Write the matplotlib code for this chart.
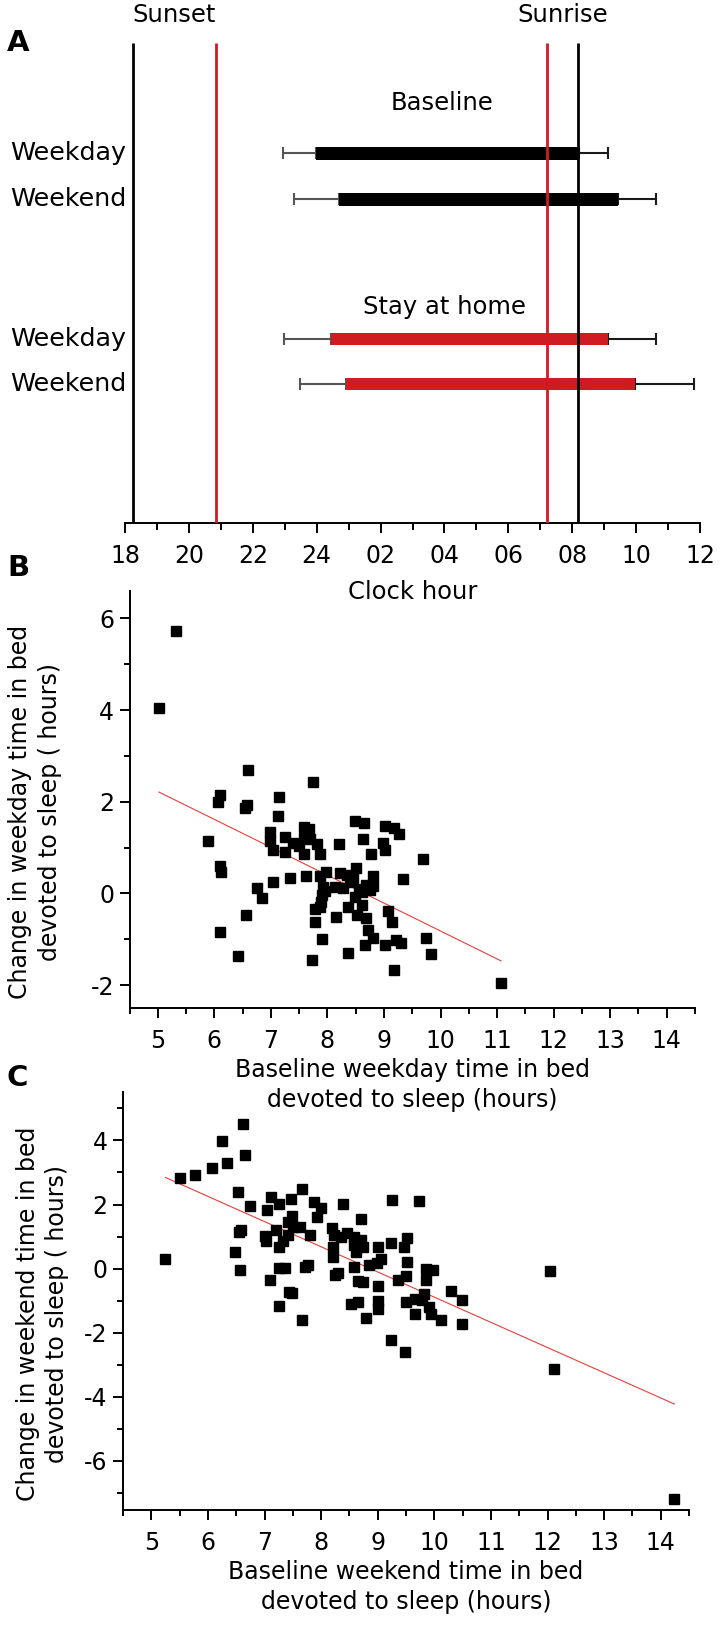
import matplotlib
matplotlib.use("Agg")
import matplotlib.pyplot as plt
import numpy as np
from matplotlib.ticker import MultipleLocator, FixedLocator

# ---------------- data ---------------- #
# panel A: clock hours on an 18..36 scale (24 = midnight)
sunset_hours = [18.24, 20.86]          # baseline (black), stay at home (red)
sunrise_hours = [32.19, 31.20]
row_names = ["Weekday", "Weekend", "Weekday", "Weekend"]
bed_onset = [23.98, 24.69, 24.46, 24.92]
bed_offset = [32.22, 33.43, 33.13, 33.97]
onset_sd = [1.02, 1.39, 1.48, 1.45]
offset_sd = [0.91, 1.18, 1.48, 1.83]
hour_ticks = [18, 20, 22, 24, 26, 28, 30, 32, 34, 36]
hour_labels = ["18", "20", "22", "24", "02", "04", "06", "08", "10", "12"]

# panel B: weekday
wkday_base = [5.02, 5.32, 6.60, 7.75, 6.10, 6.06, 6.58, 6.55, 7.15, 7.12,
              5.88, 6.98, 6.98, 7.25, 7.04, 7.25, 6.10, 6.12, 6.75, 6.85,
              7.03, 7.34, 6.56, 6.10, 6.41, 7.39, 7.49, 7.58, 7.67, 7.58,
              7.70, 7.58, 7.81, 7.87, 7.62, 7.87, 7.98, 8.22, 8.35, 8.50,
              8.46, 8.14, 8.27, 7.93, 7.90, 7.88, 7.87, 7.78, 7.78, 8.48,
              8.65, 9.02, 9.18, 9.27, 8.63, 8.21, 8.98, 9.01, 8.77, 9.69,
              8.80, 8.69, 8.81, 8.61, 8.76, 8.49, 8.61, 8.37, 8.52, 8.68,
              8.71, 8.81, 8.66, 9.01, 9.21, 9.30, 9.07, 9.15, 9.33, 8.15,
              7.91, 8.37, 7.72, 9.17, 9.74, 9.83, 11.07, 8.40, 8.55, 7.95]
wkday_change = [4.04, 5.73, 2.69, 2.44, 2.14, 2.00, 1.93, 1.86, 2.11, 1.70,
                1.15, 1.35, 1.15, 1.24, 0.95, 0.91, 0.60, 0.47, 0.12, -0.09,
                0.26, 0.33, -0.47, -0.84, -1.37, 1.10, 1.03, 1.45, 1.40, 1.21,
                1.19, 0.86, 1.07, 0.86, 0.38, 0.38, 0.47, 0.44, 0.40, 0.55,
                0.33, 0.15, 0.11, 0.15, -0.03, -0.18, -0.29, -0.35, -0.62, 1.59,
                1.54, 1.48, 1.42, 1.30, 1.18, 1.07, 1.09, 0.94, 0.87, 0.75,
                0.38, 0.18, 0.16, 0.04, 0.07, -0.07, -0.25, -0.29, -0.47, -0.54,
                -0.80, -0.98, -1.13, -1.13, -1.02, -1.08, -0.38, -0.62, 0.31, -0.51,
                -1.00, -1.31, -1.46, -1.66, -0.97, -1.33, -1.95, 0.25, 0.10, 0.05]
wkday_fit = [5.27, -0.609]   # intercept, slope

# panel C: weekend
wkend_base = [5.25, 5.50, 5.77, 6.08, 6.25, 6.33, 6.62, 6.66, 6.54, 6.75,
              6.55, 6.59, 6.48, 6.56, 7.66, 7.12, 7.25, 7.46, 7.05, 7.87,
              7.99, 8.38, 7.92, 8.71, 9.25, 9.73, 7.49, 7.41, 7.50, 7.62,
              7.20, 7.00, 7.03, 7.33, 7.41, 7.80, 7.25, 8.19, 8.23, 8.36,
              8.46, 8.59, 8.70, 8.74, 8.58, 8.62, 8.21, 8.21, 9.00, 9.24,
              9.06, 8.98, 8.84, 8.59, 8.30, 8.24, 7.77, 7.72, 7.25, 7.37,
              7.10, 8.74, 9.01, 7.43, 7.49, 7.25, 8.52, 8.66, 9.01, 9.01,
              8.79, 7.67, 9.36, 9.46, 9.52, 9.52, 9.50, 9.86, 9.98, 9.86,
              10.29, 9.82, 10.49, 9.50, 9.66, 9.78, 9.90, 9.66, 9.94, 10.11,
              10.49, 9.24, 9.49, 12.04, 12.12, 14.24, 8.66]
wkend_change = [0.30, 2.83, 2.92, 3.14, 3.99, 3.31, 4.52, 3.55, 2.38, 1.94,
                1.13, 1.19, 0.53, -0.05, 2.48, 2.23, 2.01, 2.17, 1.82, 2.07,
                1.89, 2.01, 1.60, 1.55, 2.14, 2.12, 1.63, 1.45, 1.31, 1.31,
                1.20, 1.03, 0.85, 0.85, 1.05, 1.05, 0.66, 1.26, 1.05, 0.99,
                1.10, 0.99, 0.89, 0.69, 0.74, 0.53, 0.67, 0.37, 0.69, 0.81,
                0.29, 0.16, 0.11, 0.04, -0.15, -0.20, 0.11, 0.04, 0.01, 0.01,
                -0.35, -0.43, -0.53, -0.72, -0.77, -1.17, -1.10, -1.05, -1.00, -1.26,
                -1.53, -1.60, -0.37, 0.69, 0.95, 0.22, -0.23, -0.02, -0.04, -0.35,
                -0.70, -0.79, -0.98, -1.05, -0.95, -0.98, -1.19, -1.42, -1.42, -1.60,
                -1.74, -2.23, -2.60, -0.06, -3.14, -7.18, -0.39]
wkend_fit = [6.97, -0.786]

# ---------------- style ---------------- #
RED = "#cf1b22"
FIT_RED = "#e4403a"
plt.rcParams["font.family"] = ["DejaVu Sans"]
plt.rcParams["axes.unicode_minus"] = False
W, H = 720, 1625


def add_ax(left, top, right, bottom):
    ax = fig.add_axes([left / W, 1 - bottom / H, (right - left) / W, (bottom - top) / H])
    ax.patch.set_visible(False)
    return ax


fig = plt.figure(figsize=(W / 100, H / 100), dpi=100)

# ---------------- panel A ---------------- #
axA = add_ax(125, 43, 700, 523)
axA.set_xlim(18, 36)
axA.set_ylim(0, 480)
row_y = [370, 324, 184, 139]
bar_colors = ["black", "black", RED, RED]

for y, on, off, sd1, sd2, c in zip(row_y, bed_onset, bed_offset, onset_sd, offset_sd, bar_colors):
    axA.errorbar([on], [y], xerr=[[sd1], [0]], fmt="none", ecolor="#555555",
                 elinewidth=1.5, capsize=4, capthick=1.5, zorder=2)
    axA.errorbar([off], [y], xerr=[[0], [sd2]], fmt="none", ecolor="#1a1a1a",
                 elinewidth=1.5, capsize=4, capthick=1.5, zorder=2)
    axA.barh(y, off - on, left=on, height=13 if c == "black" else 12, color=c, zorder=3)

axA.vlines([sunset_hours[0], sunrise_hours[0]], 0, 480, colors="black", lw=2, zorder=4)
axA.vlines([sunset_hours[1], sunrise_hours[1]], 0, 480, colors=RED, lw=2, zorder=4)

for y, name in zip(row_y, row_names):
    axA.text(18.05, y, name, ha="right", va="center", fontsize=18.3, clip_on=False)

axA.text(np.mean(sunset_hours), 508, "Sunset", ha="center", va="center", fontsize=17.5, clip_on=False)
axA.text(np.mean(sunrise_hours), 508, "Sunrise", ha="center", va="center", fontsize=17.5, clip_on=False)
axA.text(27.93, 420, "Baseline", ha="center", va="center", fontsize=17.5)
axA.text(28.0, 216, "Stay at home", ha="center", va="center", fontsize=17.5)

for s in ["top", "right", "left"]:
    axA.spines[s].set_visible(False)
axA.spines["bottom"].set_linewidth(1.4)
axA.set_yticks([])
axA.xaxis.set_major_locator(FixedLocator(hour_ticks))
axA.set_xticklabels(hour_labels)
axA.xaxis.set_minor_locator(MultipleLocator(1))
axA.tick_params(axis="x", which="major", length=7, width=1.4, labelsize=17, pad=8)
axA.tick_params(axis="x", which="minor", length=5, width=1.4)
axA.set_xlabel("Clock hour", fontsize=17.5, labelpad=9)


def scatter_panel(ax, xs, ys, fit, ylim, xlabel, ylabel, ylab_x):
    ax.plot(xs, ys, "s", color="black", markersize=6.8, zorder=3, clip_on=False)
    xf = np.array([min(xs), max(xs)])
    ax.plot(xf, fit[0] + fit[1] * xf, color=FIT_RED, lw=0.8, zorder=2)
    ax.set_xlim(4.5, 14.5)
    ax.set_ylim(*ylim)
    for s in ["top", "right"]:
        ax.spines[s].set_visible(False)
    for s in ["bottom", "left"]:
        ax.spines[s].set_linewidth(1.4)
    ax.xaxis.set_major_locator(MultipleLocator(1))
    ax.xaxis.set_minor_locator(MultipleLocator(0.5))
    ax.yaxis.set_major_locator(MultipleLocator(2))
    ax.yaxis.set_minor_locator(MultipleLocator(1))
    ax.set_xticks(range(5, 15))
    ax.tick_params(which="major", length=7, width=1.4, labelsize=17)
    ax.tick_params(which="minor", length=4, width=1.4)
    ax.tick_params(axis="x", which="major", pad=8)
    ax.tick_params(axis="y", which="major", pad=4)
    ax.set_xlabel(xlabel, fontsize=17, linespacing=1.3, labelpad=4)
    ax.set_ylabel(ylabel, fontsize=17, linespacing=1.3)
    ax.yaxis.set_label_coords(ylab_x, 0.47)


# ---------------- panel B ---------------- #
axB = add_ax(129.5, 591, 695, 1008)
scatter_panel(axB, wkday_base, wkday_change, wkday_fit, (-2.5, 6.6),
              "Baseline weekday time in bed\ndevoted to sleep (hours)",
              "Change in weekday time in bed\ndevoted to sleep ( hours)", -0.12)

# ---------------- panel C ---------------- #
axC = add_ax(123, 1092, 689, 1510)
scatter_panel(axC, wkend_base, wkend_change, wkend_fit, (-7.53, 5.51),
              "Baseline weekend time in bed\ndevoted to sleep (hours)",
              "Change in weekend time in bed\ndevoted to sleep ( hours)", -0.095)

# panel letters
for letter, ypx in [("A", 43), ("B", 568), ("C", 1078)]:
    fig.text(7 / W, 1 - ypx / H, letter, fontsize=21, fontweight="bold", ha="left", va="center")

fig.savefig("out.png", dpi=100)
